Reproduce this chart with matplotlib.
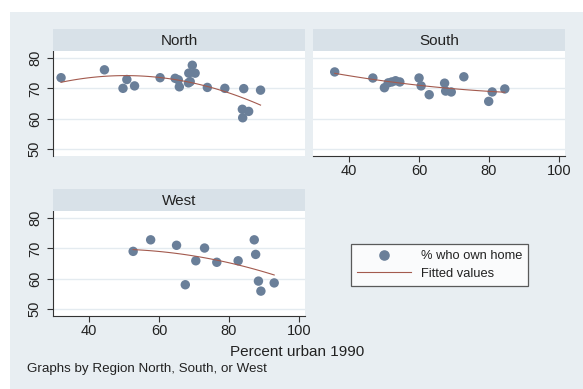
import matplotlib
matplotlib.use('Agg')
import numpy as np
import matplotlib.pyplot as plt
from matplotlib.patches import Rectangle
from matplotlib.lines import Line2D

plt.rcParams['font.family'] = ['Liberation Sans', 'DejaVu Sans']

# data: percent urban 1990 vs % who own home
north_x = [32.0, 44.4, 49.7, 50.8, 53.0, 60.3, 64.6, 65.5, 65.8, 68.4, 68.9,
           68.5, 69.5, 70.3, 73.8, 78.8, 84.2, 83.8, 85.6, 83.9, 89.0]
north_y = [73.5, 76.1, 70.0, 72.9, 70.8, 73.5, 73.3, 72.8, 70.5, 71.8, 72.2,
           75.0, 77.6, 75.0, 70.3, 70.0, 69.9, 63.1, 62.4, 60.3, 69.4]
south_x = [35.9, 46.8, 50.1, 51.2, 52.2, 53.3, 54.5, 60.0, 60.6, 62.9, 67.3,
           67.6, 69.2, 72.8, 79.9, 80.9, 84.5]
south_y = [75.4, 73.4, 70.2, 71.8, 72.1, 72.5, 72.1, 73.4, 70.8, 67.9, 71.7,
           69.1, 68.8, 73.8, 65.7, 68.8, 69.8]
west_x = [52.6, 57.6, 65.0, 67.5, 70.5, 73.0, 76.5, 82.6, 87.2, 87.6, 88.4,
          89.1, 92.9]
west_y = [69.0, 72.8, 71.0, 58.0, 65.9, 70.1, 65.4, 65.9, 72.8, 68.0, 59.2,
          55.9, 58.6]

regions = ['North', 'South', 'West']
x_ticks = [40, 60, 80, 100]
y_ticks = [50, 60, 70, 80]

BG = '#e8eef2'
STRIP = '#d8e1e8'
GRID = '#e4ebf0'
MARK = '#6a7f99'
FIT = '#a35a4e'
AXC = '#333333'

W, H = 583, 389
fig = plt.figure(figsize=(W / 100, H / 100), dpi=100)
fig.patch.set_facecolor('white')
fig.patches.append(Rectangle((10 / W, 0), 1 - 10 / W, 1 - 12 / H,
                             transform=fig.transFigure, facecolor=BG,
                             edgecolor='none', zorder=-10))


def fbox(x0, y0, x1, y1):
    # pixel box (top-left origin) -> figure fraction rect
    return [x0 / W, 1 - y1 / H, (x1 - x0) / W, (y1 - y0) / H]


panels = {
    'North': (north_x, north_y, fbox(53, 51, 305, 156), fbox(53, 29, 305, 51), True, False),
    'South': (south_x, south_y, fbox(313, 51, 565, 156), fbox(313, 29, 565, 51), False, True),
    'West': (west_x, west_y, fbox(53, 211, 305, 316), fbox(53, 189, 305, 211), True, True),
}

for name in regions:
    xs, ys, rect, srect, show_y, show_x = panels[name]
    ax = fig.add_axes(rect)
    ax.set_facecolor('white')
    ax.set_xlim(29.7, 101.7)
    ax.set_ylim(47.7, 82.3)
    for yv in y_ticks:
        ax.axhline(yv, color=GRID, lw=1.0, zorder=0)
    ax.scatter(xs, ys, s=46, color=MARK, edgecolors='none', zorder=3)
    c = np.polyfit(xs, ys, 2)
    xf = np.linspace(min(xs), max(xs), 100)
    ax.plot(xf, np.polyval(c, xf), color=FIT, lw=0.8, zorder=4)

    for s in ax.spines.values():
        s.set_visible(False)
    if show_y:
        ax.spines['left'].set_visible(True)
        ax.spines['left'].set_color(AXC)
        ax.set_yticks(y_ticks)
        ax.set_yticklabels([str(v) for v in y_ticks], rotation=90, va='center',
                           fontsize=10.5, color='#222222')
        ax.tick_params(axis='y', length=4, width=0.8, color=AXC, pad=4)
    else:
        ax.set_yticks([])
    if show_x:
        ax.spines['bottom'].set_visible(True)
        ax.spines['bottom'].set_color(AXC)
        ax.set_xticks(x_ticks)
        ax.set_xticklabels([str(v) for v in x_ticks], fontsize=10.5, color='#222222')
        ax.tick_params(axis='x', length=4, width=0.8, color=AXC, pad=2)
    else:
        ax.set_xticks([])

    sax = fig.add_axes(srect)
    sax.set_facecolor(STRIP)
    sax.set_xticks([])
    sax.set_yticks([])
    for s in sax.spines.values():
        s.set_visible(False)
    sax.text(0.5, 0.45, name, ha='center', va='center', fontsize=11,
             color='#222222', transform=sax.transAxes)

fig.text(297 / W, 1 - 352 / H, 'Percent urban 1990', ha='center', va='center',
         fontsize=11, color='#222222')
fig.text(27 / W, 1 - 369 / H, 'Graphs by Region North, South, or West',
         ha='left', va='center', fontsize=9.6, color='#222222')

handles = [Line2D([], [], ls='none', marker='o', markersize=6.6, color=MARK),
           Line2D([], [], color=FIT, lw=0.8)]
leg = fig.legend(handles, ['% who own home', 'Fitted values'],
                 loc='center', bbox_to_anchor=(439.5 / W, 1 - 265 / H),
                 fontsize=9.3, frameon=True, fancybox=False, handlelength=4.2,
                 handletextpad=0.8, borderpad=0.45, labelspacing=0.45)
leg.get_frame().set_edgecolor('#333333')
leg.get_frame().set_linewidth(0.9)
for t in leg.get_texts():
    t.set_color('#222222')

fig.savefig('out.png', dpi=100)
